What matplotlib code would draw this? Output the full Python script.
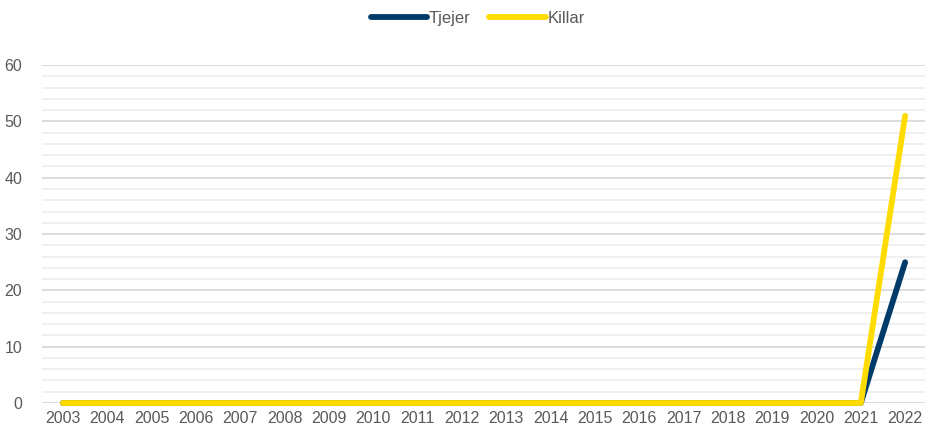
import matplotlib
matplotlib.use("Agg")
import matplotlib.pyplot as plt
import numpy as np

years = [str(y) for y in range(2003, 2023)]
tjejer = [0] * 19 + [25]
killar = [0] * 19 + [51]

plt.rcParams['font.family'] = ['Liberation Sans', 'DejaVu Sans']

fig = plt.figure(figsize=(9.26, 4.34), dpi=100)
ax = fig.add_axes([0.045, 0.0714, 0.954, 0.7786])

x = np.arange(len(years))

# rutnät: major varje 10, minor varje 2
for v in range(0, 61, 2):
    if v % 10 == 0:
        ax.axhline(v, color='#d9d9d9', lw=1.3, zorder=1)
    else:
        ax.axhline(v, color='#efefef', lw=1.3, zorder=1)

ax.plot(x, tjejer, color='#003b6a', lw=4.2, solid_capstyle='round',
        solid_joinstyle='round', label='Tjejer', zorder=3, clip_on=False)
ax.plot(x, killar, color='#ffdc00', lw=4.2, solid_capstyle='round',
        solid_joinstyle='round', label='Killar', zorder=4, clip_on=False)

ax.set_xlim(-0.48, 19.45)
ax.set_ylim(0, 60)
ax.set_xticks(x)
ax.set_xticklabels(years)
ax.set_yticks(range(0, 61, 10))
ax.tick_params(length=0, labelsize=11.5, colors='#595959', pad=6)
ax.tick_params(axis='y', pad=14)
for s in ax.spines.values():
    s.set_visible(False)

leg = fig.legend(loc='upper center', bbox_to_anchor=(0.516, 1.01), ncol=2,
                 frameon=False, fontsize=12, handlelength=3.4,
                 handletextpad=0.1, columnspacing=1.1)
for t in leg.get_texts():
    t.set_color('#595959')

fig.savefig('out.png', dpi=100)
